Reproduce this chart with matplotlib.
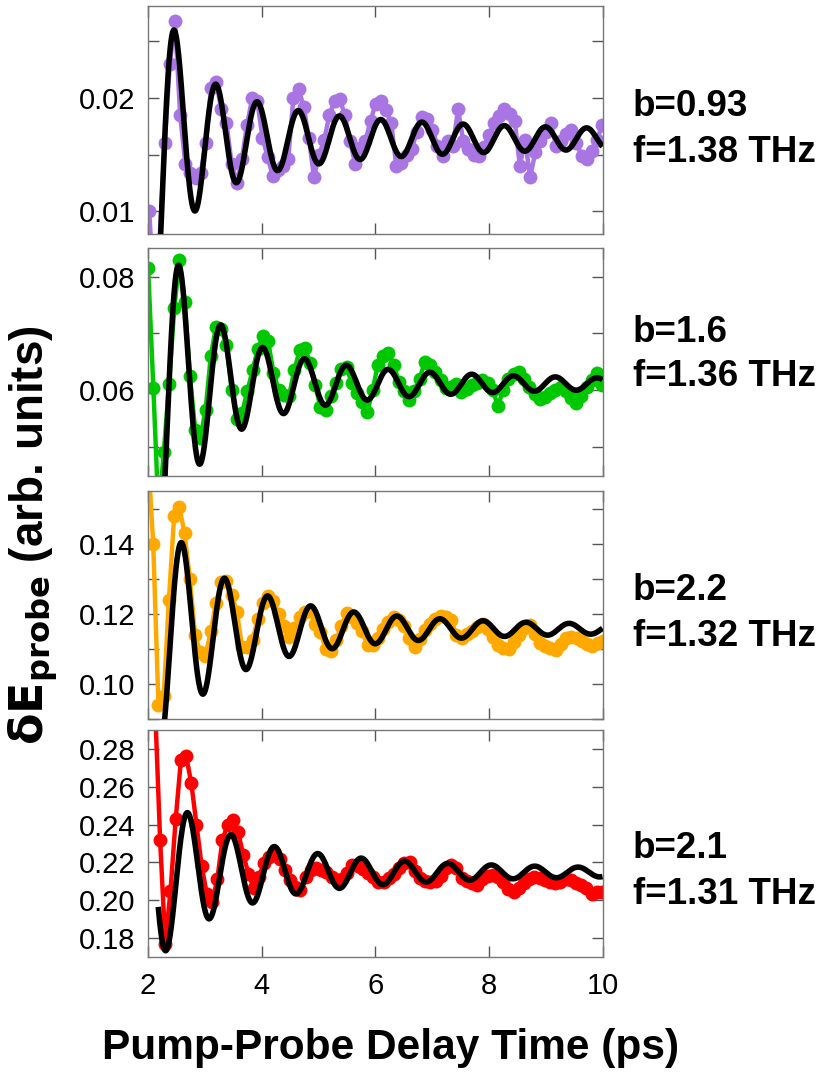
import numpy as np
import matplotlib
matplotlib.use("Agg")
import matplotlib.pyplot as plt
from matplotlib.ticker import MultipleLocator, FormatStrFormatter

plt.rcParams['font.family'] = ['Liberation Sans', 'DejaVu Sans']

# ---- measured traces (delay grid: start, step) ----
grid1 = (2.022, 0.0906)
data1 = [0.0100, 0.0020, 0.0075, 0.0160, 0.0230, 0.0268, 0.0185, 0.0142, 0.0134, 0.0129,
         0.0134, 0.0160, 0.0209, 0.0214, 0.0190, 0.0178, 0.0142, 0.0125, 0.0146, 0.0176,
         0.0200, 0.0197, 0.0165, 0.0148, 0.0131, 0.0136, 0.0140, 0.0146, 0.0200, 0.0208,
         0.0192, 0.0165, 0.0130, 0.0150, 0.0163, 0.0185, 0.0197, 0.0199, 0.0185, 0.0162,
         0.0142, 0.0156, 0.0162, 0.0180, 0.0195, 0.0197, 0.0189, 0.0178, 0.0140, 0.0143,
         0.0150, 0.0155, 0.0170, 0.0183, 0.0181, 0.0172, 0.0158, 0.0149, 0.0162, 0.0158,
         0.0190, 0.0162, 0.0155, 0.0150, 0.0149, 0.0157, 0.0167, 0.0178, 0.0184, 0.0190,
         0.0186, 0.0180, 0.0140, 0.0163, 0.0130, 0.0152, 0.0162, 0.0170, 0.0178, 0.0158,
         0.0162, 0.0168, 0.0172, 0.0160, 0.0149, 0.0146, 0.0153, 0.0163, 0.0176]

grid2 = (2.0026, 0.0919)
data2 = [0.0815, 0.0603, 0.0380, 0.0490, 0.0610, 0.0745, 0.0830, 0.0755, 0.0625, 0.0530,
         0.0515, 0.0565, 0.0660, 0.0712, 0.0708, 0.0680, 0.0600, 0.0548, 0.0560, 0.0598,
         0.0635, 0.0672, 0.0695, 0.0686, 0.0630, 0.0600, 0.0592, 0.0590, 0.0635, 0.0670,
         0.0675, 0.0648, 0.0609, 0.0570, 0.0565, 0.0590, 0.0612, 0.0638, 0.0640, 0.0612,
         0.0594, 0.0578, 0.0562, 0.0600, 0.0645, 0.0660, 0.0665, 0.0645, 0.0615, 0.0598,
         0.0583, 0.0598, 0.0620, 0.0650, 0.0645, 0.0632, 0.0617, 0.0603, 0.0605, 0.0610,
         0.0596, 0.0601, 0.0608, 0.0613, 0.0617, 0.0612, 0.0600, 0.0572, 0.0600, 0.0620,
         0.0628, 0.0631, 0.0620, 0.0605, 0.0593, 0.0584, 0.0588, 0.0595, 0.0600, 0.0605,
         0.0598, 0.0586, 0.0577, 0.0590, 0.0605, 0.0618, 0.0630, 0.0608]

grid3 = (2.0, 0.092)
data3 = [0.1650, 0.1400, 0.0940, 0.0965, 0.1240, 0.1480, 0.1505, 0.1430, 0.1300, 0.1140,
         0.1090, 0.1080, 0.1150, 0.1231, 0.1290, 0.1295, 0.1255, 0.1205, 0.1106, 0.1105,
         0.1125, 0.1185, 0.1232, 0.1250, 0.1238, 0.1200, 0.1165, 0.1135, 0.1160, 0.1190,
         0.1205, 0.1208, 0.1170, 0.1148, 0.1100, 0.1094, 0.1125, 0.1165, 0.1203, 0.1192,
         0.1175, 0.1150, 0.1110, 0.1110, 0.1130, 0.1158, 0.1178, 0.1190, 0.1183, 0.1165,
         0.1130, 0.1105, 0.1128, 0.1155, 0.1172, 0.1185, 0.1193, 0.1190, 0.1182, 0.1140,
         0.1130, 0.1142, 0.1152, 0.1162, 0.1170, 0.1158, 0.1135, 0.1112, 0.1102, 0.1100,
         0.1120, 0.1140, 0.1160, 0.1168, 0.1143, 0.1118, 0.1108, 0.1103, 0.1098, 0.1115,
         0.1130, 0.1135, 0.1130, 0.1124, 0.1115, 0.1108, 0.1116, 0.1122]

grid4 = (2.03, 0.0915)
data4 = [0.3600, 0.3050, 0.2320, 0.1770, 0.2050, 0.2430, 0.2740, 0.2765, 0.2620, 0.2400,
         0.2180, 0.2030, 0.1990, 0.2110, 0.2320, 0.2400, 0.2425, 0.2360, 0.2240, 0.2140,
         0.2065, 0.2125, 0.2195, 0.2230, 0.2255, 0.2220, 0.2160, 0.2105, 0.2070, 0.2055,
         0.2120, 0.2160, 0.2168, 0.2158, 0.2150, 0.2120, 0.2105, 0.2110, 0.2145, 0.2185,
         0.2180, 0.2165, 0.2145, 0.2120, 0.2095, 0.2098, 0.2118, 0.2140, 0.2170, 0.2198,
         0.2200, 0.2152, 0.2115, 0.2100, 0.2098, 0.2100, 0.2128, 0.2170, 0.2185, 0.2170,
         0.2115, 0.2100, 0.2090, 0.2080, 0.2110, 0.2128, 0.2132, 0.2124, 0.2095, 0.2060,
         0.2045, 0.2062, 0.2092, 0.2112, 0.2122, 0.2116, 0.2108, 0.2098, 0.2090, 0.2098,
         0.2112, 0.2105, 0.2092, 0.2080, 0.2062, 0.2030, 0.2045, 0.2045]

# ---- damped-oscillator fit: y0 + A (t - t0)^(-b) cos(2 pi f (t - tc)) ----
b_vals = [0.93, 1.6, 2.2, 2.1]
f_vals = [1.38, 1.36, 1.32, 1.31]          # THz
amp = [0.00656, 0.0337, 0.2324, 0.339]
t0 = [1.80, 1.20, -0.18, -0.40]
tc = [2.475, 2.554, 2.597, 2.703]
y0 = [0.0164, 0.0611, 0.1157, 0.2148]
fit_start = [2.15, 2.15, 2.22, 2.18]

colors = ['#A875E3', '#00C800', '#FFA800', '#FF0000']
ylims = [(0.0080, 0.0281), (0.0448, 0.0851), (0.0900, 0.1551), (0.1699, 0.2901)]
major = [0.01, 0.02, 0.02, 0.02]
minor = [0.005, 0.01, 0.01, None]
grids = [grid1, grid2, grid3, grid4]
series = [data1, data2, data3, data4]

W, H = 819, 1073
fig = plt.figure(figsize=(W / 100, H / 100), dpi=100)

# axes boxes in pixels: (top, bottom)
boxes = [(6, 234), (248, 476), (491, 719), (730, 957)]
left_px, right_px = 148, 602.5
label_px = [(106, 152), (332, 377), (591, 637), (849, 895)]

tick_col = '#555555'
for i in range(4):
    top, bot = boxes[i]
    ax = fig.add_axes([left_px / W, 1 - bot / H, (right_px - left_px) / W, (bot - top) / H])
    start, step = grids[i]
    y = np.array(series[i])
    t = start + step * np.arange(len(y))
    ax.plot(t, y, '-', color=colors[i], lw=3.2, marker='o', ms=10, mec='none', zorder=2)

    tf = np.linspace(fit_start[i], 10.0, 1200)
    yf = y0[i] + amp[i] * (tf - t0[i]) ** (-b_vals[i]) * np.cos(2 * np.pi * f_vals[i] * (tf - tc[i]))
    ax.plot(tf, yf, '-', color='black', lw=4.0, zorder=3, solid_capstyle='butt')

    ax.set_xlim(2, 10)
    ax.set_ylim(*ylims[i])
    ax.xaxis.set_major_locator(MultipleLocator(2))
    ax.yaxis.set_major_locator(MultipleLocator(major[i]))
    if minor[i]:
        ax.yaxis.set_minor_locator(MultipleLocator(minor[i]))
    ax.yaxis.set_major_formatter(FormatStrFormatter('%.2f'))
    ax.tick_params(which='both', direction='in', top=True, right=True,
                   length=8, width=1.0, color=tick_col, labelsize=21, pad=9)
    ax.tick_params(axis='x', which='both', pad=11)
    if i < 3:
        ax.tick_params(axis='x', labelbottom=False)
    for s in ax.spines.values():
        s.set_color('#777777')
        s.set_linewidth(1.0)

    fig.text(633 / W, 1 - label_px[i][0] / H, f'b={b_vals[i]:g}', fontsize=26.5,
             fontweight='bold', va='center', ha='left')
    fig.text(633 / W, 1 - label_px[i][1] / H, f'f={f_vals[i]:.2f} THz', fontsize=26.5,
             fontweight='bold', va='center', ha='left')

fig.text(33 / W, 1 - 535 / H, r'$\mathbf{\delta E_{probe}}$ (arb. units)', rotation=90,
         fontsize=33, fontweight='bold', ha='center', va='center')
fig.text(391 / W, 1 - 1048 / H, 'Pump-Probe Delay Time (ps)', fontsize=30.5,
         fontweight='bold', ha='center', va='center')

fig.savefig('out.png', dpi=100)
